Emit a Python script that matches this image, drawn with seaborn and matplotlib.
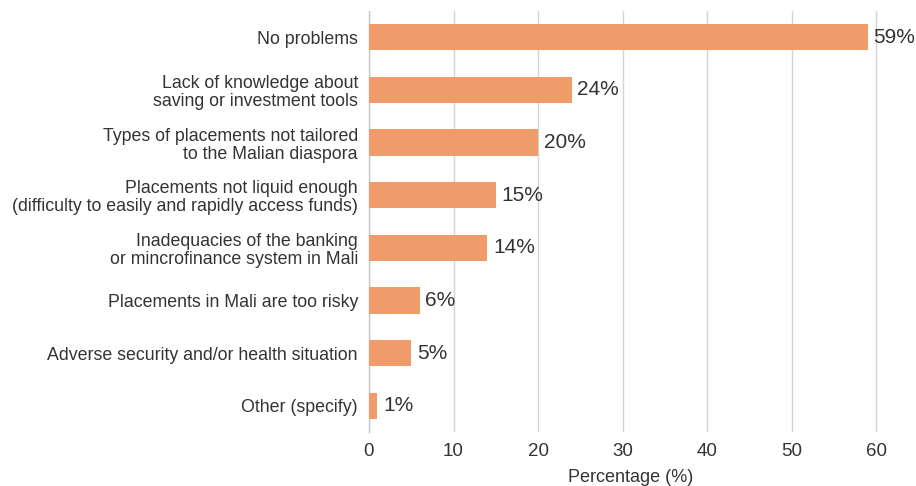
import matplotlib
matplotlib.use("Agg")
import matplotlib.pyplot as plt
import seaborn as sns
import pandas as pd

categories = [
    "No problems",
    "Lack of knowledge about\nsaving or investment tools",
    "Types of placements not tailored\nto the Malian diaspora",
    "Placements not liquid enough\n(difficulty to easily and rapidly access funds)",
    "Inadequacies of the banking\nor mincrofinance system in Mali",
    "Placements in Mali are too risky",
    "Adverse security and/or health situation",
    "Other (specify)",
]
values = [59, 24, 20, 15, 14, 6, 5, 1]
x_ticks = [0, 10, 20, 30, 40, 50, 60]

df = pd.DataFrame({"category": categories, "value": values})

sns.set_theme(style="white")
plt.rcParams["font.family"] = ["Liberation Sans", "DejaVu Sans"]
text_color = "#333333"

fig = plt.figure(figsize=(9.16, 4.86), dpi=100)
ax = fig.add_axes([369 / 916, 1 - 432 / 486, (893 - 369) / 916, (432 - 11) / 486])

sns.barplot(data=df, x="value", y="category", color="#EF9C6A", saturation=1,
            width=0.5, ax=ax, zorder=3, edgecolor="none", linewidth=0)

ax.set_xlim(0, 62)
ax.set_ylim(len(categories) - 0.5, -0.5)
ax.set_xticks(x_ticks)
ax.xaxis.grid(True, color="#d4d4d4", linewidth=1.0, zorder=0)
ax.yaxis.grid(False)
for side in ["top", "right", "bottom"]:
    ax.spines[side].set_visible(False)
ax.spines["left"].set_color("#c8c8c8")
ax.spines["left"].set_linewidth(1.0)
ax.tick_params(axis="y", length=0, labelsize=12.8, colors=text_color, pad=8)
ax.tick_params(axis="x", length=0, labelsize=13.5, colors=text_color, pad=8)
for lbl in ax.get_yticklabels():
    lbl.set_linespacing(1.1)
ax.set_ylabel("")
ax.set_xlabel("Percentage (%)", fontsize=13, color=text_color, labelpad=6.5)

for container in ax.containers:
    ax.bar_label(container, labels=[f"{v}%" for v in values], padding=4,
                 fontsize=15, color=text_color)

fig.savefig("out.png", dpi=100)
